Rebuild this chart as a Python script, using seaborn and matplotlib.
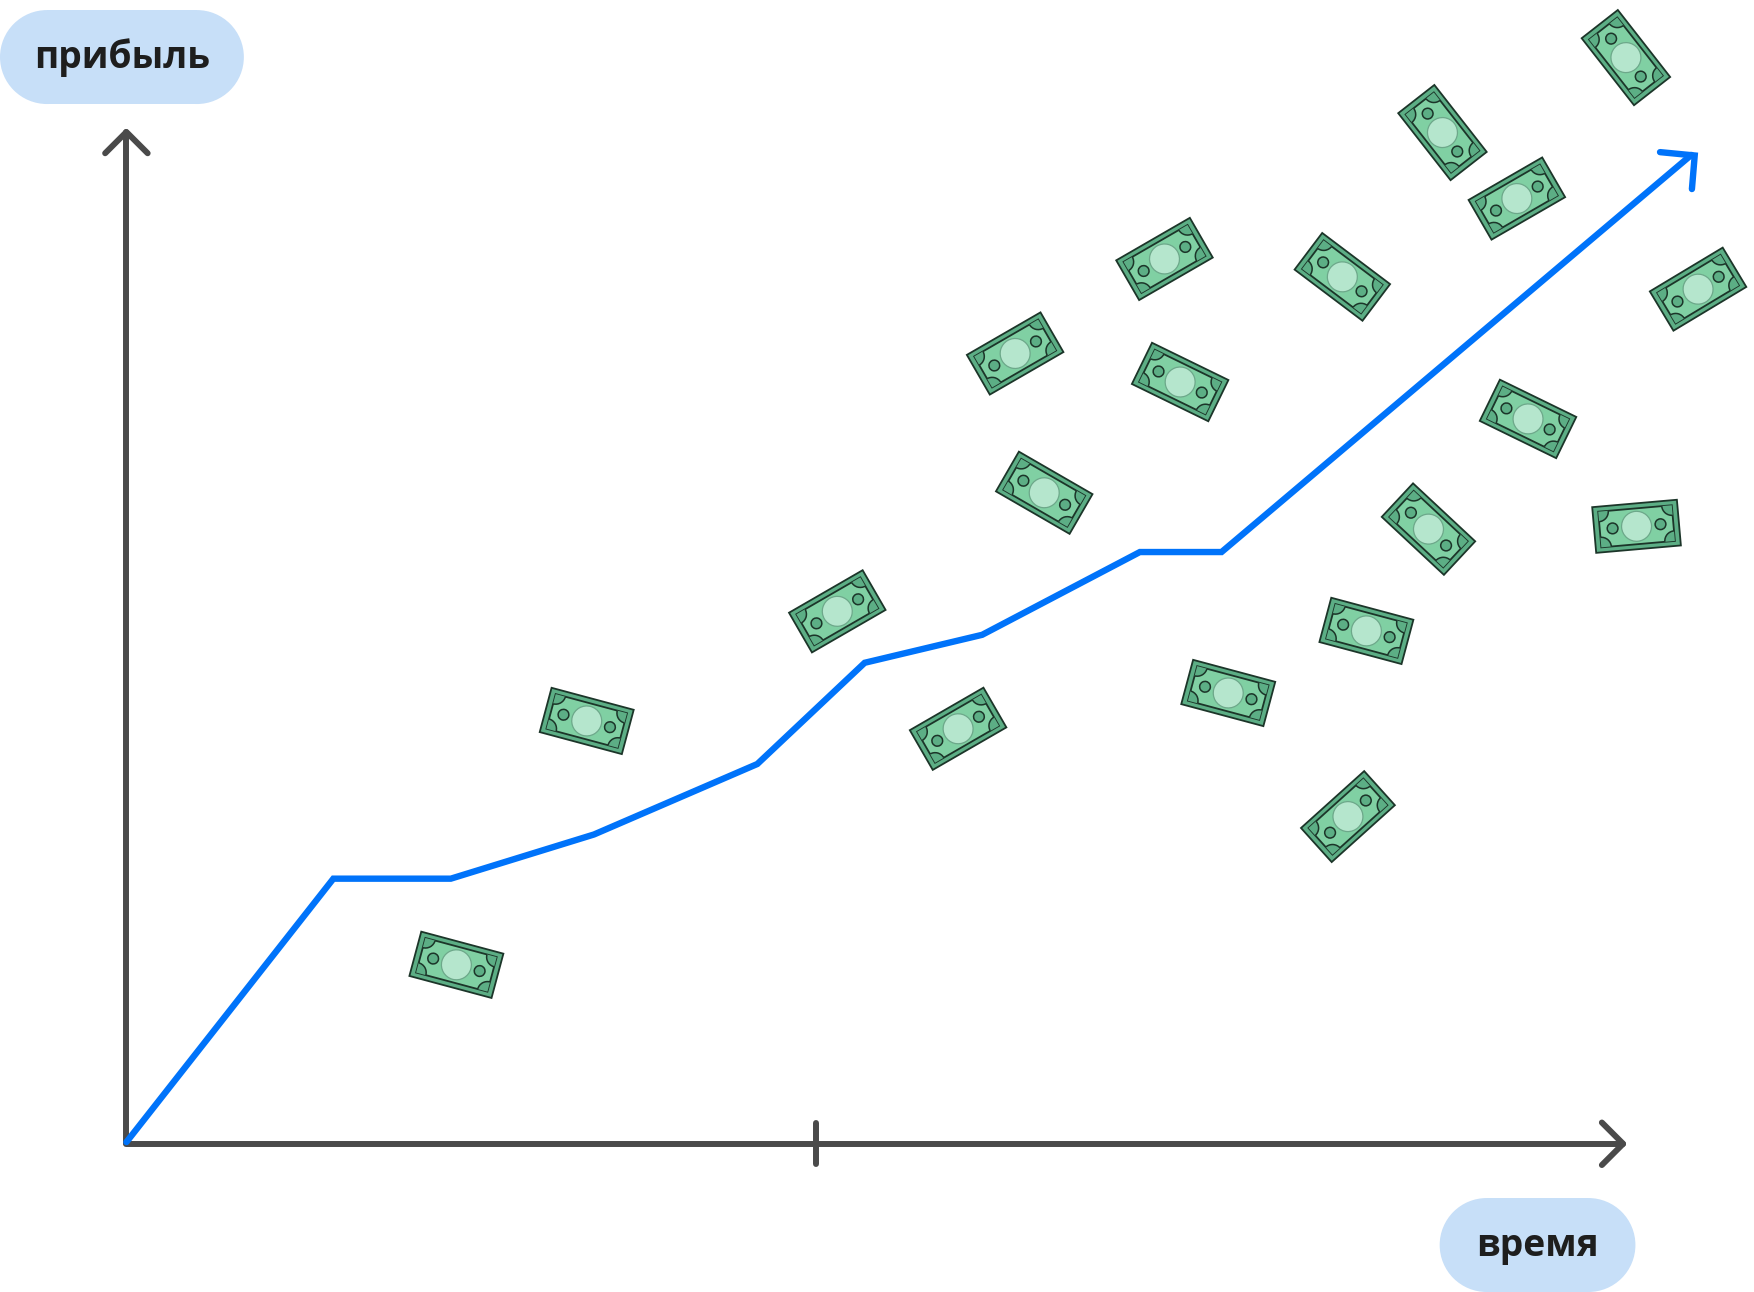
import matplotlib
matplotlib.use("Agg")
import matplotlib.pyplot as plt
import pandas as pd
import seaborn as sns
from matplotlib.patches import Circle, Rectangle
from matplotlib.transforms import Affine2D

# profit line
time_vals = [113, 298, 403, 531, 677, 773, 878, 1019, 1092, 1512]
profit_vals = [1021, 785.5, 785.5, 746, 683, 592.5, 567.5, 493.5, 493.5, 138.5]

# banknotes: centre and tilt
bill_x = [408, 524.5, 748.5, 856.5, 933.5, 907.5, 1041, 1055, 1200, 1098, 1221.5, 1277, 1205, 1366, 1463, 1518, 1356, 1289.5, 1453.5]
bill_y = [862.5, 644.5, 546.5, 651.5, 440.5, 316, 231.5, 341.5, 247.5, 619.5, 564, 473, 730, 374.5, 470.5, 258.5, 177.5, 118.5, 51.5]
bill_angle = [15, 15, -30, -30, 30, -30, -30, 26, 37, 15, 15, 43, -42, 26, -5, -31, -30, 52, 52]

y_label = "прибыль"
x_label = "время"

DARK = "#4a4a4a"
BLUE = "#0073fa"
PILL = "#c7dff8"
INK = "#1c3529"
GREEN_D = "#5cae85"
GREEN_M = "#80d0a3"
GREEN_L = "#b5e6cd"

sns.set_theme(style="white")
plt.rcParams["font.family"] = ["Open Sans", "DejaVu Sans"]


def draw_bill(ax, cx, cy, angle):
    tr = Affine2D().rotate_deg(angle).translate(cx, cy) + ax.transData

    ax.add_patch(Rectangle((-38, -20.5), 76, 41, facecolor=GREEN_D, edgecolor=INK, linewidth=1.3, transform=tr, zorder=3))
    inner = Rectangle((-33, -16), 66, 32, facecolor=GREEN_M, edgecolor=INK, linewidth=1.3, transform=tr, zorder=4)
    ax.add_patch(inner)

    for sx in (-33, 33):
        for sy in (-16, 16):
            corner = Circle((sx, sy), 9, facecolor=GREEN_D, edgecolor=INK, linewidth=1.1, transform=tr, zorder=5)
            ax.add_patch(corner)
            # a Rectangle as clip only keeps its bbox, so pass the path
            corner.set_clip_path(inner.get_path(), inner.get_transform())

    for sx in (-21.5, 21.5):
        ax.add_patch(Circle((sx, 0), 4.8, facecolor=GREEN_D, edgecolor=INK, linewidth=1.1, transform=tr, zorder=5))
    ax.add_patch(Circle((0, 0), 13.4, facecolor=GREEN_L, edgecolor="#6da88a", linewidth=0.9, transform=tr, zorder=5))


def draw_pill(ax, x0, y0, x1, y1, label):
    r = (y1 - y0) / 2
    ax.add_patch(Rectangle((x0 + r, y0), x1 - x0 - 2 * r, y1 - y0, facecolor=PILL, edgecolor="none", zorder=2))
    ax.add_patch(Circle((x0 + r, y0 + r), r, facecolor=PILL, edgecolor="none", zorder=2))
    ax.add_patch(Circle((x1 - r, y0 + r), r, facecolor=PILL, edgecolor="none", zorder=2))
    ax.text((x0 + x1) / 2, (y0 + y1) / 2 + 0.5, label, ha="center", va="center", fontsize=26.8,
            fontweight="bold", color="#1e1e1e", zorder=6)


fig, ax = plt.subplots(figsize=(17.54, 12.92), dpi=100)
ax.set_position([0, 0, 1, 1])
ax.set_xlim(0, 1568)
ax.set_ylim(1155, 0)
ax.axis("off")

# axes with their arrow heads
axis_style = dict(color=DARK, linewidth=4.3, solid_capstyle="round", solid_joinstyle="round", zorder=2)
ax.plot([113, 113], [1022, 118], **axis_style)
ax.plot([113, 1451], [1022.5, 1022.5], **axis_style)
ax.plot([94, 113, 132], [137, 118, 137], **axis_style)
ax.plot([1432, 1451, 1432], [1003.5, 1022.5, 1041.5], **axis_style)
ax.plot([729.5, 729.5], [1004, 1041], **axis_style)

line_df = pd.DataFrame({"time": time_vals, "profit": profit_vals})
sns.lineplot(data=line_df, x="time", y="profit", sort=False, estimator=None, color=BLUE, linewidth=4.6,
             solid_capstyle="round", solid_joinstyle="miter", zorder=3, ax=ax)
ax.plot([1484, 1515, 1512.5], [136, 139, 169], color=BLUE, linewidth=4.6, solid_capstyle="round",
        solid_joinstyle="miter", zorder=3)
ax.set_xlim(0, 1568)
ax.set_ylim(1155, 0)

for cx, cy, angle in zip(bill_x, bill_y, bill_angle):
    draw_bill(ax, cx, cy, angle)

draw_pill(ax, 0, 9, 218, 93, y_label)
draw_pill(ax, 1287, 1071, 1462, 1155, x_label)

fig.savefig("out.png", dpi=100)
